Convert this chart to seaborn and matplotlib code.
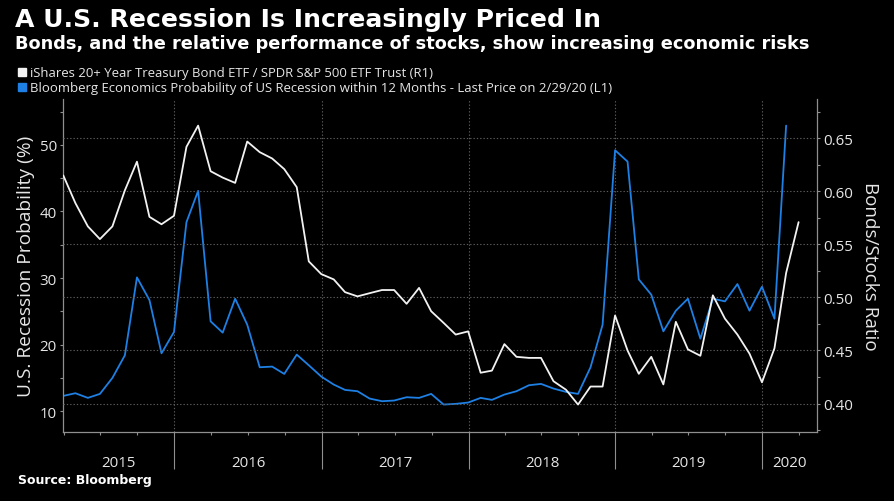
from pathlib import Path

import matplotlib

matplotlib.use("Agg")
import matplotlib.dates as mdates
import matplotlib.pyplot as plt
import matplotlib.transforms as mtransforms
import pandas as pd
import seaborn as sns
from matplotlib.lines import Line2D
from matplotlib.ticker import FormatStrFormatter, MultipleLocator, NullFormatter


OUTPUT_PATH = Path("out.png")
W, H = 894, 502

TITLE = "A U.S. Recession Is Increasingly Priced In"
SUBTITLE = "Bonds, and the relative performance of stocks, show increasing economic risks"
SOURCE = "Source: Bloomberg"
RATIO_LABEL = "iShares 20+ Year Treasury Bond ETF / SPDR S&P 500 ETF Trust (R1)"
PROB_LABEL = "Bloomberg Economics Probability of US Recession within 12 Months - Last Price on 2/29/20 (L1)"
LEFT_AXIS_LABEL = "U.S. Recession Probability (%)"
RIGHT_AXIS_LABEL = "Bonds/Stocks Ratio"

FIRST_MONTH_END = "2015-03-31"
X_START = "2015-03-31"
X_END = "2020-05-15"
YEARS = [2015, 2016, 2017, 2018, 2019, 2020]

# monthly, Mar 2015 .. Feb 2020 (left axis, %)
RECESSION_PROB = [
    12.3, 12.7, 12.0, 12.6, 15.0, 18.4, 30.1, 26.7, 18.7, 21.9,
    38.4, 43.1, 23.5, 21.8, 26.9, 23.0, 16.6, 16.7, 15.6, 18.5,
    16.9, 15.2, 14.0, 13.2, 13.0, 11.9, 11.5, 11.6, 12.1, 12.0,
    12.6, 11.0, 11.1, 11.3, 12.0, 11.7, 12.5, 13.0, 13.9, 14.1,
    13.4, 12.9, 12.6, 16.6, 23.0, 49.2, 47.5, 29.8, 27.5, 22.0,
    25.1, 26.9, 20.9, 26.9, 26.5, 29.1, 25.1, 28.7, 23.9, 52.9,
]

# monthly, Mar 2015 .. Mar 2020 (right axis, ratio)
BOND_STOCK_RATIO = [
    0.615, 0.589, 0.567, 0.555, 0.567, 0.601, 0.628, 0.576, 0.569, 0.577,
    0.642, 0.662, 0.619, 0.613, 0.608, 0.647, 0.637, 0.631, 0.621, 0.604,
    0.534, 0.522, 0.517, 0.505, 0.501, 0.504, 0.507, 0.507, 0.494, 0.509,
    0.487, 0.476, 0.465, 0.468, 0.429, 0.431, 0.456, 0.444, 0.443, 0.443,
    0.421, 0.413, 0.399, 0.416, 0.416, 0.483, 0.450, 0.428, 0.444, 0.418,
    0.477, 0.451, 0.445, 0.502, 0.480, 0.465, 0.447, 0.420, 0.452, 0.523,
    0.571,
]

BG = "#000000"
WHITE = "#f2f2f2"
BLUE = "#1e80e4"
AXIS_GRAY = "#8f8f8f"
GRID_GRAY = "#5c5c5c"
TEXT = "#e6e6e6"

BOLD_FONT = ["DejaVu Sans"]
PLAIN_FONT = ["Open Sans", "DejaVu Sans"]


def build_frames():
    months = pd.date_range(FIRST_MONTH_END, periods=len(BOND_STOCK_RATIO), freq="ME")
    prob = pd.DataFrame({"date": months[: len(RECESSION_PROB)], "prob": RECESSION_PROB})
    ratio = pd.DataFrame({"date": months, "ratio": BOND_STOCK_RATIO})
    return prob, ratio


def style_axes(ax, ax2):
    ax.set_xlim(pd.Timestamp(X_START), pd.Timestamp(X_END))
    ax.set_ylim(6.95, 56.9)
    ax2.set_ylim(0.3736, 0.6871)

    ax.yaxis.set_major_locator(MultipleLocator(10))
    ax.yaxis.set_minor_locator(MultipleLocator(5))
    ax2.yaxis.set_major_locator(MultipleLocator(0.05))
    ax2.yaxis.set_minor_locator(MultipleLocator(0.025))
    ax2.yaxis.set_major_formatter(FormatStrFormatter("%.2f"))

    ax.xaxis.set_major_locator(mdates.YearLocator())
    ax.xaxis.set_minor_locator(mdates.MonthLocator(bymonth=[1, 4, 7, 10]))
    ax.xaxis.set_major_formatter(NullFormatter())
    ax.xaxis.set_minor_formatter(NullFormatter())

    ax.tick_params(axis="x", which="major", length=26.6, width=0.8, color=AXIS_GRAY, bottom=True)
    ax.tick_params(axis="x", which="minor", length=2.2, width=0.8, color=AXIS_GRAY, bottom=True)
    ax.tick_params(axis="y", which="both", left=True, right=False, color=AXIS_GRAY,
                   labelcolor=TEXT, labelsize=10.8, width=0.8, pad=2.2)
    ax.tick_params(axis="y", which="major", length=2.4)
    ax.tick_params(axis="y", which="minor", length=2.0)
    ax2.tick_params(axis="y", which="both", right=True, left=False, color=AXIS_GRAY,
                    labelcolor=TEXT, labelsize=10.8, width=0.8, pad=2.6)
    ax2.tick_params(axis="y", which="major", length=2.4)
    ax2.tick_params(axis="y", which="minor", length=2.0)

    for name, spine in ax.spines.items():
        spine.set_visible(name in ("left", "bottom"))
        spine.set_color(AXIS_GRAY)
        spine.set_linewidth(0.9)
    for name, spine in ax2.spines.items():
        spine.set_visible(name == "right")
        spine.set_color(AXIS_GRAY)
        spine.set_linewidth(0.9)

    grid_kw = dict(color=GRID_GRAY, linestyle=(0, (1.2, 1.8)), linewidth=0.8)
    ax.grid(False)
    ax.grid(axis="x", which="major", **grid_kw)
    ax2.grid(False)
    ax2.grid(axis="y", which="major", **grid_kw)

    ax.set_xlabel("")
    ax2.set_xlabel("")
    ax.set_ylabel(LEFT_AXIS_LABEL, color=TEXT, fontsize=13.8, va="center", ha="center")
    ax.yaxis.set_label_coords((26 - 63.3) / 753.4, 0.5)
    ax2.set_ylabel(RIGHT_AXIS_LABEL, color=TEXT, fontsize=13.6, rotation=270, va="center", ha="center")
    ax2.yaxis.set_label_coords((870 - 63.3) / 753.4, 0.5)


def add_year_labels(ax):
    x0, x1 = ax.get_xlim()
    trans = mtransforms.blended_transform_factory(ax.transData, ax.transAxes)
    for year in YEARS:
        lo = max(mdates.date2num(pd.Timestamp(f"{year}-01-01")), x0)
        hi = min(mdates.date2num(pd.Timestamp(f"{year + 1}-01-01")), x1)
        ax.text((lo + hi) / 2, (432.5 - 466.7) / 332.5, str(year), transform=trans,
                ha="center", va="baseline", color=TEXT, fontsize=10.8)


def add_texts(fig):
    fig.text(15 / W, 1 - 26.7 / H, TITLE, color="white", fontsize=18.05, fontweight="bold",
             family=BOLD_FONT, va="baseline", ha="left")
    fig.text(15 / W, 1 - 49.3 / H, SUBTITLE, color="white", fontsize=12.8, fontweight="bold",
             family=BOLD_FONT, va="baseline", ha="left")
    fig.text(18.3 / W, 1 - 484.3 / H, SOURCE, color="white", fontsize=9, fontweight="bold",
             family=BOLD_FONT, va="baseline", ha="left")

    handles = [
        Line2D([], [], marker="s", linestyle="none", markersize=5.2, color=WHITE),
        Line2D([], [], marker="s", linestyle="none", markersize=5.2, color=BLUE),
    ]
    fig.legend(handles, [RATIO_LABEL, PROB_LABEL], loc="upper left",
               bbox_to_anchor=(18 / W, 1 - 67.5 / H), frameon=False, fontsize=9.45,
               labelcolor=TEXT, handlelength=0.6, handletextpad=0.3, borderpad=0,
               borderaxespad=0, labelspacing=0.14)


def main() -> None:
    sns.set_style("ticks", {
        "axes.facecolor": BG,
        "figure.facecolor": BG,
        "axes.edgecolor": AXIS_GRAY,
        "text.color": TEXT,
        "xtick.color": AXIS_GRAY,
        "ytick.color": AXIS_GRAY,
    })
    plt.rcParams["font.family"] = PLAIN_FONT

    prob, ratio = build_frames()

    fig, ax = plt.subplots(figsize=(W / 100, H / 100), dpi=100)
    fig.subplots_adjust(left=63.3 / W, right=816.7 / W, bottom=1 - 432.5 / H, top=1 - 100 / H)
    ax2 = ax.twinx()

    sns.lineplot(data=prob, x="date", y="prob", ax=ax, color=BLUE, linewidth=1.3)
    sns.lineplot(data=ratio, x="date", y="ratio", ax=ax2, color=WHITE, linewidth=1.3)

    style_axes(ax, ax2)
    add_year_labels(ax)
    add_texts(fig)

    fig.savefig(OUTPUT_PATH, dpi=100, facecolor=BG)
    plt.close(fig)


if __name__ == "__main__":
    main()
